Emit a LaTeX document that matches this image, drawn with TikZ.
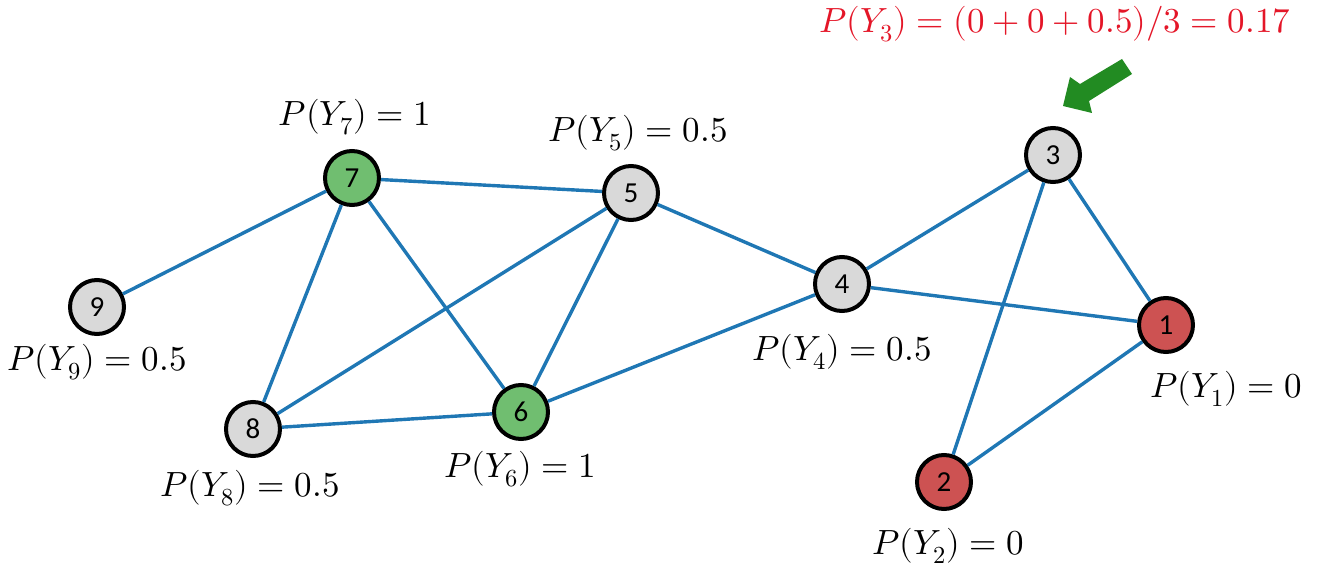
\documentclass[tikz,border=0pt]{standalone}
\usepackage{fontspec}
\usepackage{unicode-math}
\setmathfont{Latin Modern Math}
\newfontfamily\nodefont{Carlito}
\definecolor{edgeblue}{RGB}{31,119,180}
\definecolor{ngray}{RGB}{217,217,217}
\definecolor{ngreen}{RGB}{112,190,112}
\definecolor{nred}{RGB}{205,82,82}
\definecolor{tred}{RGB}{228,22,40}
\definecolor{agreen}{RGB}{34,139,34}
\tikzset{
  vtx/.style={circle, draw=black, line width=4pt, minimum size=54pt, inner sep=0pt, font=\nodefont\fontsize{29}{32}\selectfont},
  gv/.style={vtx, fill=ngray},
  grv/.style={vtx, fill=ngreen},
  rv/.style={vtx, fill=nred},
  edge/.style={draw=edgeblue, line width=3.4pt},
  lbl/.style={font=\fontsize{35}{40}\selectfont, inner sep=0pt}
}
\begin{document}
\begin{tikzpicture}[x=1pt,y=-1pt]
\useasboundingbox (0,0) rectangle (1323,583);
\node[grv] (n7) at (352,178) {7};
\node[gv] (n5) at (631,193) {5};
\node[gv] (n9) at (97,307) {9};
\node[gv] (n8) at (253,429) {8};
\node[grv] (n6) at (521,412) {6};
\node[gv] (n4) at (842,284) {4};
\node[gv] (n3) at (1053,155) {3};
\node[rv] (n1) at (1166,325) {1};
\node[rv] (n2) at (944,482) {2};
\foreach \a/\b in {n7/n5,n7/n9,n7/n8,n7/n6,n5/n8,n5/n6,n5/n4,n8/n6,n6/n4,n4/n3,n4/n1,n3/n2,n3/n1,n1/n2}
  \draw[edge] (\a) -- (\b);
\node[lbl] (l7) at (355,117) {$P(Y_7)=1$};
\node[lbl] (l5) at (638,133) {$P(Y_5)=0.5$};
\node[lbl] (l9) at (97,362) {$P(Y_9)=0.5$};
\node[lbl] (l8) at (250,488) {$P(Y_8)=0.5$};
\node[lbl] (l6) at (520,469) {$P(Y_6)=1$};
\node[lbl] (l4) at (842,352) {$P(Y_4)=0.5$};
\node[lbl] (l1) at (1226,389) {$P(Y_1)=0$};
\node[lbl] (l2) at (948,546) {$P(Y_2)=0$};
\node[lbl, text=tred] (l3) at (1055,24) {$P(Y_3)=(0+0+0.5)/3=0.17$};
\fill[agreen] (1063,106) -- (1070,77) -- (1080,84) -- (1122,59) -- (1132,74) -- (1089,101) -- (1092,113) -- cycle;
\end{tikzpicture}
\end{document}
